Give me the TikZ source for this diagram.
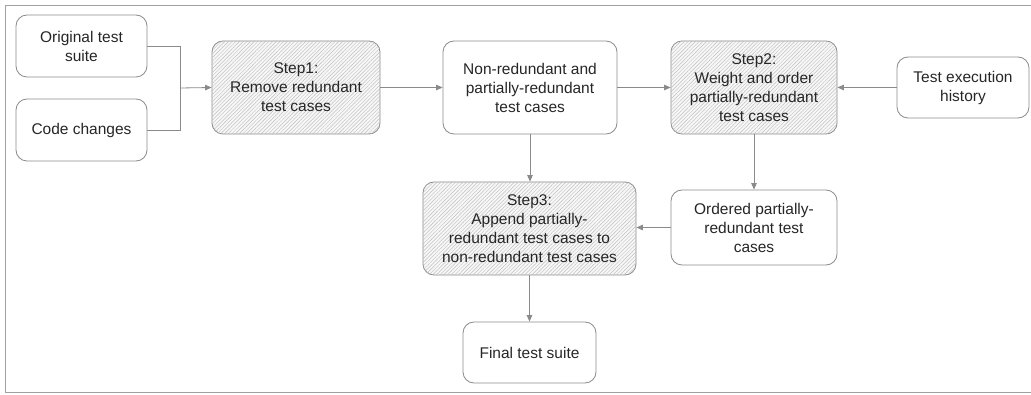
\documentclass[tikz,border=0pt]{standalone}
\usepackage{fontspec}
\setmainfont{Liberation Sans}
\usetikzlibrary{patterns.meta,arrows.meta}
\definecolor{lc}{HTML}{8A8A8A}
\tikzset{
  x=1pt,y=-1pt,
  box/.style={draw=lc,line width=0.8pt,rounded corners=11pt,align=center,
    inner sep=0pt,font=\fontsize{15.5}{19}\selectfont,text=black!85},
  stepbox/.style={box,fill=gray!6,postaction={pattern={Lines[angle=45,distance=2.6pt,line width=0.45pt]},pattern color=gray!50}},
  conn/.style={draw=lc,line width=0.8pt},
  arr/.style={conn,-{Triangle[length=6.5pt,width=5.5pt]}},
}
\newcommand{\bx}[7]{% name, x1,y1,x2,y2, style, text
  \node[#6,minimum width={#4-#2},minimum height={#5-#3}] (#1) at ({(#2+#4)/2},{(#3+#5)/2}) {#7};}
\begin{document}
\begin{tikzpicture}
\useasboundingbox (0,0) rectangle (1031,395);
\draw[lc!80,line width=0.8pt] (1031,5) -- (5,5) -- (5,392) -- (1031,392);
\bx{ots}{16}{15}{147}{77}{box}{Original test\\suite}
\bx{cc}{16}{99}{147}{161}{box}{Code changes}
\bx{s1}{212}{41}{380}{134}{stepbox}{Step1:\\Remove redundant\\test cases}
\bx{nr}{443}{41}{617}{134}{box}{Non-redundant and\\partially-redundant\\test cases}
\bx{s2}{671}{41}{837}{134}{stepbox}{Step2:\\Weight and order\\partially-redundant\\test cases}
\bx{teh}{897}{57}{1029}{118}{box}{Test execution\\history}
\bx{ord}{671}{190}{837}{265}{box}{Ordered partially-\\redundant test\\cases}
\bx{s3}{423}{182}{636}{275}{stepbox}{Step3:\\Append partially-\\redundant test cases to\\non-redundant test cases}
\bx{fin}{463}{322}{596}{383}{box}{Final test suite}
\coordinate (j) at (180,88);
\draw[conn] (ots.east) -| (j);
\draw[conn] (cc.east) -| (j);
\draw[arr] (j) -- (s1.west);
\draw[arr] (s1.east) -- (nr.west);
\draw[arr] (nr.east) -- (s2.west);
\draw[arr] (teh.west) -- (teh.west -| s2.east);
\draw[arr] (nr.south) -- (nr.south |- s3.north);
\draw[arr] (s2.south) -- (ord.north);
\draw[arr] (ord.west) -- (ord.west -| s3.east);
\draw[arr] (s3.south -| fin.north) -- (fin.north);
\end{tikzpicture}
\end{document}
